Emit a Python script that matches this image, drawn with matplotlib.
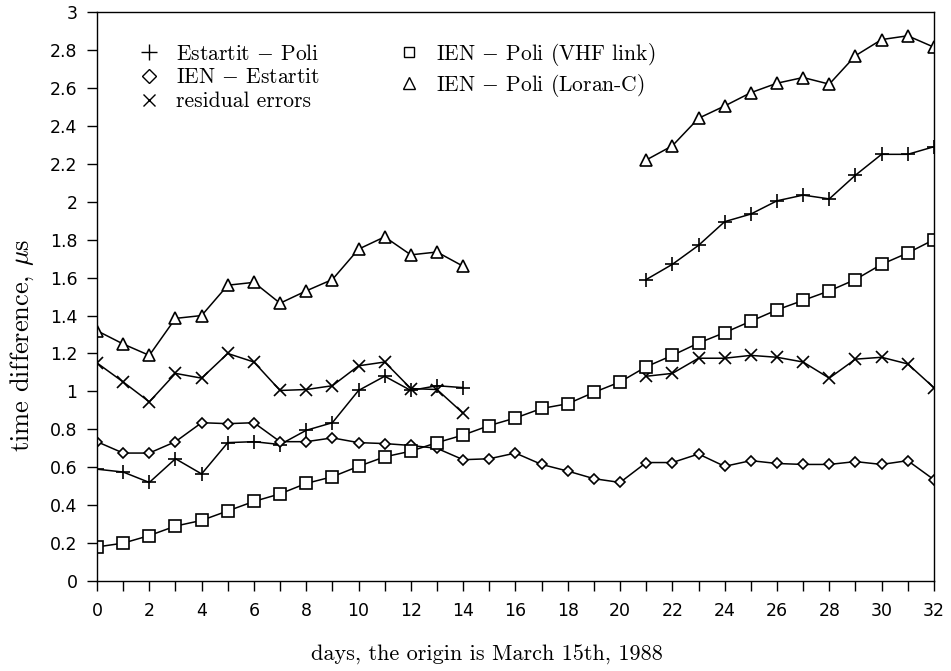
import numpy as np
import matplotlib
matplotlib.use("Agg")
import matplotlib.pyplot as plt
from matplotlib.lines import Line2D
from matplotlib.ticker import MultipleLocator, FuncFormatter

plt.rcParams["mathtext.fontset"] = "cm"

nan = np.nan
days = list(range(33))

est_poli = [0.59, 0.575, 0.52, 0.645, 0.565, 0.73, 0.735, 0.72, 0.795, 0.835,
            1.005, 1.08, 1.005, 1.03, 1.02, nan, nan, nan, nan, nan, nan,
            1.59, 1.67, 1.77, 1.895, 1.935, 2.005, 2.035, 2.015, 2.14, 2.25, 2.25, 2.29]
ien_est = [0.735, 0.675, 0.675, 0.735, 0.835, 0.83, 0.835, 0.735, 0.735, 0.755,
           0.73, 0.725, 0.715, 0.70, 0.64, 0.645, 0.675, 0.615, 0.58, 0.54, 0.52,
           0.625, 0.625, 0.67, 0.605, 0.635, 0.62, 0.615, 0.615, 0.63, 0.615, 0.635, 0.535]
residual = [1.15, 1.05, 0.945, 1.095, 1.07, 1.2, 1.155, 1.005, 1.01, 1.03,
            1.135, 1.155, 1.015, 1.01, 0.885, nan, nan, nan, nan, nan, nan,
            1.08, 1.095, 1.175, 1.175, 1.19, 1.18, 1.155, 1.07, 1.17, 1.18, 1.145, 1.02]
vhf = [0.18, 0.20, 0.24, 0.29, 0.32, 0.37, 0.42, 0.46, 0.515, 0.55,
       0.605, 0.655, 0.685, 0.73, 0.77, 0.82, 0.86, 0.91, 0.935, 0.995, 1.05,
       1.13, 1.19, 1.255, 1.31, 1.37, 1.43, 1.48, 1.53, 1.59, 1.67, 1.73, 1.80]
loran = [1.32, 1.25, 1.19, 1.385, 1.40, 1.56, 1.575, 1.465, 1.53, 1.59,
         1.75, 1.815, 1.72, 1.735, 1.66, nan, nan, nan, nan, nan, nan,
         2.22, 2.295, 2.44, 2.505, 2.575, 2.625, 2.655, 2.62, 2.77, 2.855, 2.875, 2.815]

labels = [r"Estartit $-$ Poli", r"IEN $-$ Estartit", "residual errors",
          r"IEN $-$ Poli (VHF link)", r"IEN $-$ Poli (Loran-C)"]
series = [est_poli, ien_est, residual, vhf, loran]
markers = ["+", "D", "x", "s", "^"]
sizes = [10, 5.5, 9, 8, 8]
legend_sizes = [11, 7, 8, 7, 9]

fig = plt.figure(figsize=(9.51, 6.71), dpi=100)
ax = fig.add_axes([0.102, 0.134, 0.880, 0.848])

for vals, m, ms in zip(series, markers, sizes):
    ax.plot(days, vals, color="black", lw=1.1, marker=m, ms=ms,
            mfc="white", mec="black", mew=1.2)

ax.set_xlim(0, 32)
ax.set_ylim(0, 3)
ax.xaxis.set_major_locator(MultipleLocator(2))
ax.xaxis.set_minor_locator(MultipleLocator(1))
ax.yaxis.set_major_locator(MultipleLocator(0.2))
ax.yaxis.set_major_formatter(FuncFormatter(lambda v, p: "%g" % round(v, 1)))
ax.tick_params(axis="both", which="both", direction="out", length=7, width=1.0,
               labelsize=12.5, top=False, right=False)
ax.tick_params(axis="x", which="both", pad=8)
ax.tick_params(axis="y", pad=7)
for s in ax.spines.values():
    s.set_linewidth(1.0)

ax.set_xlabel("days, the origin is March 15th, 1988", family="cmr10",
              fontsize=16)
ax.xaxis.set_label_coords(0.466, -0.113)
ax.set_ylabel(r"time difference, $\mu$s", family="cmr10", fontsize=19)
ax.yaxis.set_label_coords(-0.073, 0.415)

handles = [Line2D([], [], ls="none", color="black", marker=m, ms=ms,
                  mfc="white", mec="black", mew=1.0)
           for m, ms in zip(markers, legend_sizes)]
ax.legend(handles, labels, ncol=2, loc="upper left", bbox_to_anchor=(0.049, 0.95),
          frameon=False, prop={"family": "cmr10", "size": 15.5}, handlelength=1.0,
          handletextpad=0.75, columnspacing=3.65, labelspacing=0.2,
          borderpad=0, borderaxespad=0)

fig.savefig("out.png", dpi=100)
